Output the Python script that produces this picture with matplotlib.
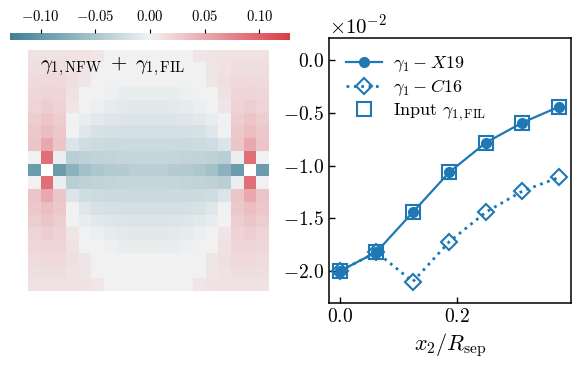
import numpy as np
import seaborn as sns
from matplotlib import pyplot as plt
from matplotlib.ticker import MultipleLocator

plt.rcParams['font.family'] = 'serif'
plt.rcParams['font.serif'] = ['cmr10']
plt.rcParams['mathtext.fontset'] = 'cm'
plt.rcParams['axes.formatter.use_mathtext'] = True

nan = np.nan

# shear map rows (centre row is r9, rows mirror about it)
r18 = [0.010, 0.010, 0.010, 0.010, 0.009, 0.007, 0, 0, 0, 0, 0, 0, 0, 0.007, 0.009, 0.010, 0.010, 0.010, 0.010]
r17 = [0.013, 0.013, 0.013, 0.011, 0.008, 0, 0, 0, 0, 0, 0, 0, 0, 0, 0.008, 0.011, 0.013, 0.013, 0.013]
r16 = [0.015, 0.016, 0.016, 0.012, 0.008, 0, 0, 0, 0, 0, 0, 0, 0, 0, 0.008, 0.012, 0.016, 0.016, 0.015]
r15 = [0.018, 0.020, 0.019, 0.010, 0, 0, -0.002, -0.005, -0.006, -0.006, -0.006, -0.005, -0.002, 0, 0, 0.010, 0.019, 0.020, 0.018]
r14 = [0.020, 0.024, 0.021, 0.008, 0, -0.003, -0.007, -0.009, -0.010, -0.010, -0.010, -0.009, -0.007, -0.003, 0, 0.008, 0.021, 0.024, 0.020]
r13 = [0.024, 0.030, 0.025, 0, -0.005, -0.010, -0.013, -0.014, -0.015, -0.015, -0.015, -0.014, -0.013, -0.010, -0.005, 0, 0.025, 0.030, 0.024]
r12 = [0.028, 0.035, 0.028, 0, -0.012, -0.018, -0.020, -0.021, -0.021, -0.021, -0.021, -0.021, -0.020, -0.018, -0.012, 0, 0.028, 0.035, 0.028]
r11 = [0.030, 0.050, 0.030, -0.015, -0.024, -0.026, -0.027, -0.027, -0.027, -0.027, -0.027, -0.027, -0.027, -0.026, -0.024, -0.015, 0.030, 0.050, 0.030]
r10 = [0, 0.090, -0.004, -0.040, -0.037, -0.035, -0.033, -0.032, -0.031, -0.031, -0.031, -0.032, -0.033, -0.035, -0.037, -0.040, -0.004, 0.090, 0]
r9 = [-0.095, nan, -0.095, -0.070, -0.055, -0.048, -0.044, -0.042, -0.040, -0.040, -0.040, -0.042, -0.044, -0.048, -0.055, -0.070, -0.095, nan, -0.095]

gamma_map = np.array([r18, r17, r16, r15, r14, r13, r12, r11, r10, r9,
                      r10, r11, r12, r13, r14, r15, r16, r17, r18])

x_sep = [0.0, 0.0625, 0.125, 0.1875, 0.25, 0.3125, 0.375]
g1_x19 = [-0.0200, -0.0182, -0.0144, -0.0106, -0.0078, -0.0059, -0.0044]
g1_c16 = [-0.0200, -0.0182, -0.0210, -0.0172, -0.0144, -0.0124, -0.0111]
g1_fil = [-0.0200, -0.0182, -0.0144, -0.0106, -0.0078, -0.0059, -0.0044]

blue = '#1f77b4'
cmap = sns.diverging_palette(220, 10, as_cmap=True)

fig = plt.figure(figsize=(5.81, 3.70), dpi=100)

# left: map + colorbar on top
ax_map = fig.add_axes([0.0482, 0.2135, 0.4148, 0.6514])
im = ax_map.imshow(gamma_map, cmap=cmap, vmin=-0.128, vmax=0.128,
                   interpolation='nearest', aspect='auto')
ax_map.axis('off')
ax_map.text(0.05, 0.935, r'$\gamma_{1,\rm NFW}\;+\;\gamma_{1,\rm FIL}$',
            transform=ax_map.transAxes, fontsize=15, va='center', ha='left')

cax = fig.add_axes([0.0172, 0.8919, 0.4819, 0.0189])
cb = fig.colorbar(im, cax=cax, orientation='horizontal')
cb.outline.set_visible(False)
cb.set_ticks([-0.1, -0.05, 0.0, 0.05, 0.1])
cax.xaxis.set_ticks_position('top')
cax.tick_params(labelsize=10.5, length=3, direction='out')

# right: profiles
ax = fig.add_axes([0.5668, 0.1819, 0.4155, 0.7146])
ax.plot(x_sep, g1_x19, '-o', color=blue, lw=1.6, ms=7, label=r'$\gamma_1-X19$', zorder=3)
ax.plot(x_sep, g1_c16, ':D', color=blue, lw=2, ms=8.5, mfc='none', mew=1.5,
        label=r'$\gamma_1-C16$', zorder=2)
ax.plot(x_sep, g1_fil, 's', color=blue, ms=10.5, mfc='none', mew=1.5,
        label=r'Input $\gamma_{1,\rm FIL}$', zorder=2)

ax.set_xlim(-0.018, 0.395)
ax.set_ylim(-0.0230, 0.0021)
ax.xaxis.set_major_locator(MultipleLocator(0.2))
ax.yaxis.set_major_locator(MultipleLocator(0.005))
ax.ticklabel_format(axis='y', style='sci', scilimits=(0, 0))
ax.tick_params(direction='in', labelsize=14, length=4, width=1)
ax.yaxis.get_offset_text().set_fontsize(15)
for sp in ax.spines.values():
    sp.set_linewidth(1.1)
ax.set_xlabel(r'$x_2/R_{\rm sep}$', fontsize=16)
ax.legend(loc='upper left', frameon=False, fontsize=13, labelspacing=0.2,
          handletextpad=0.6)

fig.savefig('out.png', dpi=100)
